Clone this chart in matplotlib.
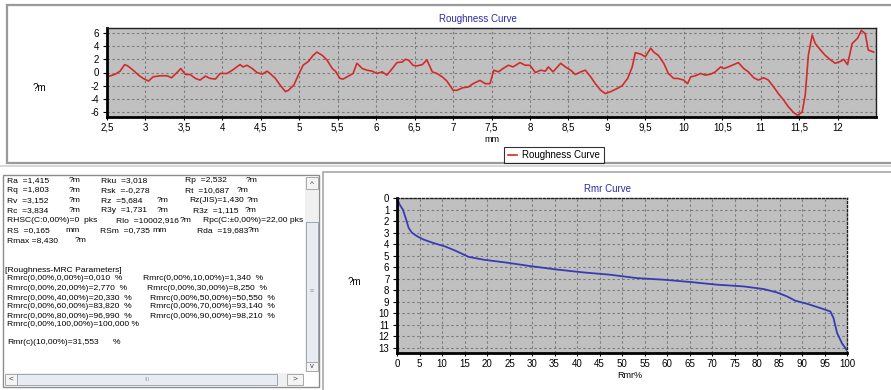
import matplotlib
matplotlib.use("Agg")
import matplotlib.pyplot as plt
from matplotlib.patches import Rectangle
from matplotlib.ticker import FuncFormatter, FixedLocator

# ---------------- data ----------------
rough_x = [2.50, 2.60, 2.67, 2.73, 2.77, 2.84, 2.91, 2.97, 3.04, 3.10, 3.19, 3.28, 3.34, 3.42, 3.46,
           3.52, 3.58, 3.65, 3.71, 3.78, 3.84, 3.91, 3.97, 4.06, 4.13, 4.19, 4.23, 4.27, 4.32, 4.39,
           4.45, 4.52, 4.58, 4.62, 4.69, 4.75, 4.82, 4.86, 4.93, 4.98, 5.05, 5.12, 5.18, 5.23, 5.30,
           5.36, 5.43, 5.47, 5.53, 5.57, 5.64, 5.70, 5.75, 5.82, 5.88, 5.95, 6.01, 6.08, 6.14, 6.21,
           6.27, 6.34, 6.38, 6.42, 6.48, 6.53, 6.60, 6.66, 6.73, 6.79, 6.86, 6.92, 7.00, 7.05, 7.13,
           7.20, 7.26, 7.35, 7.42, 7.48, 7.53, 7.59, 7.65, 7.72, 7.78, 7.87, 7.94, 8.00, 8.07, 8.14,
           8.20, 8.24, 8.30, 8.40, 8.46, 8.53, 8.59, 8.66, 8.72, 8.79, 8.85, 8.92, 8.98, 9.05, 9.14,
           9.20, 9.27, 9.33, 9.37, 9.44, 9.50, 9.57, 9.61, 9.67, 9.74, 9.80, 9.87, 9.92, 10.00, 10.05,
           10.09, 10.15, 10.22, 10.28, 10.35, 10.41, 10.48, 10.52, 10.58, 10.65, 10.71, 10.78, 10.84,
           10.91, 10.97, 11.04, 11.10, 11.17, 11.23, 11.30, 11.36, 11.43, 11.48, 11.54, 11.58, 11.62,
           11.67, 11.71, 11.78, 11.84, 11.91, 11.97, 12.04, 12.08, 12.13, 12.19, 12.26, 12.31, 12.36,
           12.40, 12.47]
rough_y = [-0.66, -0.3, 0.2, 1.2, 1.0, 0.35, -0.4, -0.9, -1.3, -0.66, -0.5, -0.5, -0.8, 0.1, 0.6,
           -0.3, -0.3, -0.9, -1.15, -0.55, -0.9, -1.0, -0.15, -0.15, 0.35, 0.85, 1.2, 0.85, 1.1, 0.6,
           0.0, -0.25, 0.2, -0.15, -0.9, -1.9, -2.9, -2.7, -1.9, -0.6, 1.1, 1.7, 2.6, 3.1, 2.6,
           1.9, 0.6, 0.2, -0.9, -1.0, -0.55, -0.15, 1.4, 0.6, 0.35, 0.2, -0.15, 0.1, -0.4, 0.6,
           1.5, 1.6, 2.0, 1.9, 1.1, 1.0, 1.2, 1.9, 0.1, -0.15, -0.66, -1.3, -2.7, -2.7, -2.3,
           -2.2, -1.7, -1.2, -1.7, -1.7, 0.35, 0.1, 0.6, 1.1, 0.85, 1.5, 1.1, 1.1, 0.0, 0.35,
           0.2, 0.85, 0.1, 1.4, 0.85, 0.35, -0.3, 0.1, 0.35, -0.66, -1.7, -2.7, -3.2, -2.9, -2.4,
           -2.0, -0.9, 0.85, 3.0, 2.8, 2.4, 3.7, 3.1, 2.6, 1.4, -0.15, -0.9, -0.9, -1.15, -1.7,
           -0.66, -0.5, -0.15, -0.4, -0.25, 0.1, 0.85, 0.6, 0.85, 1.2, 1.5, 0.6, 0.1,
           -0.8, -1.15, -0.8, -1.15, -2.2, -3.2, -4.2, -5.2, -6.1, -6.5, -6.0, -3.4, 2.6,
           5.7, 4.4, 3.4, 2.6, 1.9, 1.4, 1.7, 2.0, 1.2, 4.4, 5.2, 6.4, 5.9,
           3.4, 3.1]
rough_xticks = [2.5, 3, 3.5, 4, 4.5, 5, 5.5, 6, 6.5, 7, 7.5, 8, 8.5, 9, 9.5, 10, 10.5, 11, 11.5, 12]
rough_yticks = [-6, -4, -2, 0, 2, 4, 6]

rmr_pct = [0, 0.6, 1.3, 1.9, 2.6, 3.3, 4.4, 5.9, 8.1, 10.7, 13.0, 15.9, 19.3, 24.4, 29.6, 35.6,
           41.5, 47.4, 53.3, 59.3, 65.2, 71.1, 77.0, 81.5, 84.4, 86.7, 88.5, 91.1, 94.1, 96.3,
           97.0, 97.8, 98.9, 100]
rmr_depth = [0, 0.58, 1.0, 1.7, 2.6, 3.0, 3.3, 3.6, 3.9, 4.2, 4.57, 5.1, 5.35, 5.6, 5.9, 6.2,
             6.45, 6.65, 6.94, 7.08, 7.28, 7.51, 7.66, 7.89, 8.18, 8.53, 8.9, 9.16, 9.54, 9.83,
             10.4, 11.7, 12.6, 13.2]
rmr_xticks = list(range(0, 101, 5))
rmr_yticks = list(range(0, 14))

# parameter read-outs (text panel)
param_rows = [
    (181, [(7, "Ra  =1,415"), (69, "?m"), (101, "Rku  =3,018"), (185, "Rp  =2,532"), (246, "?m")]),
    (191, [(7, "Rq  =1,803"), (69, "?m"), (101, "Rsk  =-0,278"), (185, "Rt  =10,687"), (237, "?m")]),
    (201, [(7, "Rv  =3,152"), (69, "?m"), (101, "Rz  =5,684"), (157, "?m"), (189, "Rz(JIS)=1,430"), (247, "?m")]),
    (211, [(7, "Rc  =3,834"), (69, "?m"), (101, "R3y  =1,731"), (157, "?m"), (193, "R3z  =1,115"), (245, "?m")]),
    (221, [(7, "RHSC(C:0,00%)=0  pks"), (116, "Rlo  =10002,916"), (180, "?m"), (203, "Rpc(C:\u00b10,00%)=22,00 pks")]),
    (231, [(7, "RS  =0,165"), (65, "mm"), (100, "RSm  =0,735"), (152, "mm"), (197, "Rda  =19,683"), (248, "?m")]),
    (241, [(7, "Rmax =8,430"), (75, "?m")]),
]
mrc_levels = [0, 10, 20, 30, 40, 50, 60, 70, 80, 90, 100]
mrc_values = [0.010, 1.340, 2.770, 8.250, 20.330, 50.550, 83.820, 93.140, 96.990, 98.210, 100.000]
rmr_c_level = 10
rmr_c_value = 31.553

# ---------------- figure ----------------
W, H = 891, 390
fig = plt.figure(figsize=(W / 100, H / 100), dpi=100)
fig.patch.set_facecolor("white")

fam = ["Liberation Sans", "DejaVu Sans"]
plt.rcParams["font.family"] = fam


def fx(x):
    return x / W


def fy(y):
    return 1 - y / H


def prect(x0, y0, x1, y1, **kw):
    r = Rectangle((fx(x0), fy(y1)), (x1 - x0) / W, (y1 - y0) / H,
                  transform=fig.transFigure, **kw)
    fig.add_artist(r)
    return r


def ptext(x, y, s, **kw):
    kw.setdefault("fontsize", 7)
    kw.setdefault("va", "center")
    return fig.text(fx(x), fy(y), s, **kw)


# window frames
prect(7, 5, 893, 163, facecolor="white", edgecolor="#9a9a9a", lw=1.6, zorder=0)
prect(-2, 164.5, 893, 166.5, facecolor="#d8d8d8", edgecolor="none", zorder=0)
prect(3, 175, 319, 387, facecolor="white", edgecolor="#8c8c8c", lw=1.0, zorder=0)
prect(323, 172, 893, 392, facecolor="white", edgecolor="#a8a8a8", lw=1.2, zorder=0)

comma = FuncFormatter(lambda v, p: ("%g" % v).replace(".", ","))


def style_axes(ax, dotted_frame):
    ax.set_facecolor("#c0c0c0")
    ax.grid(True, color="#7c7c7c", linestyle=(0, (2.2, 2.2)), lw=0.8)
    ax.set_axisbelow(True)
    for s in ("left", "bottom"):
        ax.spines[s].set_linewidth(2.0)
        ax.spines[s].set_color("black")
    for s in ("top", "right"):
        ax.spines[s].set_linewidth(1.0)
        ax.spines[s].set_color("#202020")
        if dotted_frame:
            ax.spines[s].set_linestyle((0, (1.5, 1.5)))
    ax.tick_params(axis="both", labelsize=7, length=3, width=0.8, pad=2.5, colors="black")
    ax.tick_params(axis="x", length=2.5, pad=1.5)
    ax.xaxis.set_major_formatter(comma)
    ax.yaxis.set_major_formatter(comma)


# ---- roughness curve ----
ax1 = fig.add_axes([fx(107), fy(117), (876 - 107) / W, (117 - 28) / H])
style_axes(ax1, False)
ax1.plot(rough_x, rough_y, color="#d42a2a", lw=1.2, label="Roughness Curve")
ax1.set_xlim(2.5, 12.5)
ax1.set_ylim(-6.76, 6.76)
ax1.xaxis.set_major_locator(FixedLocator(rough_xticks))
ax1.yaxis.set_major_locator(FixedLocator(rough_yticks))

ptext(478, 19, "Roughness Curve", ha="center", color="#2b2ba8", fontsize=7)
ptext(33, 88, "?m", ha="left", fontsize=7)
ptext(492, 139, "mm", ha="center", fontsize=6.5)
leg = ax1.legend(loc="center", bbox_to_anchor=(fx(554), fy(155)), bbox_transform=fig.transFigure,
                 fontsize=7, frameon=True, fancybox=False, handlelength=1.0, handletextpad=0.5,
                 borderpad=0.35, borderaxespad=0)
leg.get_frame().set_edgecolor("black")
leg.get_frame().set_linewidth(0.8)

# ---- Rmr curve ----
ax2 = fig.add_axes([fx(397), fy(353), (847 - 397) / W, (353 - 198) / H])
style_axes(ax2, True)
ax2.plot(rmr_pct, rmr_depth, color="#3a3ab4", lw=1.3)
ax2.set_xlim(0, 100)
ax2.set_ylim(13.43, 0)
ax2.xaxis.set_major_locator(FixedLocator(rmr_xticks))
ax2.yaxis.set_major_locator(FixedLocator(rmr_yticks))

ptext(608, 189, "Rmr Curve", ha="center", color="#2b2ba8", fontsize=7)
ptext(348, 282, "?m", ha="left", fontsize=7)
ptext(630, 376, "Rmr%", ha="center", fontsize=6.5)

# ---- text panel ----
tsize = 6.1
clip_box = Rectangle((fx(4), fy(386)), (303 - 4) / W, (386 - 176) / H, transform=fig.transFigure,
                     visible=False)
fig.add_artist(clip_box)
for y, items in param_rows:
    for x, s in items:
        t = ptext(x, y, s, fontsize=tsize, ha="left")
        t.set_clip_path(clip_box)
        t.set_clip_on(True)


def f3(v):
    return ("%.3f" % v).replace(".", ",")


ptext(5, 270, "[Roughness-MRC Parameters]", fontsize=tsize)
left_x = 7
right_x = [143, 147, 150, 150, 150]
row_y = [279, 288, 298, 307, 316, 325]
for i in range(len(mrc_levels)):
    r = i // 2
    if i == len(mrc_levels) - 1:
        s = "Rmrc(0,00%%,%d,00%%)=%s %%" % (mrc_levels[i], f3(mrc_values[i]))
    else:
        s = "Rmrc(0,00%%,%d,00%%)=%s  %%" % (mrc_levels[i], f3(mrc_values[i]))
    x = left_x if i % 2 == 0 else right_x[r]
    ptext(x, row_y[r], s, fontsize=tsize)
ptext(7, 343, "Rmr(c)(%d,00%%)=%s" % (rmr_c_level, f3(rmr_c_value)), fontsize=tsize)
ptext(113, 343, "%", fontsize=tsize)

# scrollbars
prect(305, 176, 318, 372, facecolor="#f0f0f0", edgecolor="none", zorder=1)
prect(305.5, 177, 317.5, 189, facecolor="#f4f4f4", edgecolor="#a8a8a8", lw=0.7, zorder=2)
ptext(311.5, 184, "^", ha="center", fontsize=6, color="#404060", zorder=3)
prect(305.5, 222, 317.5, 362, facecolor="#e8ecf2", edgecolor="#9aa4b4", lw=0.7, zorder=2)
ptext(311.5, 292, "\u2261", ha="center", fontsize=5, color="#9aa0aa", zorder=3)
prect(305.5, 362, 317.5, 371, facecolor="#f4f4f4", edgecolor="#a8a8a8", lw=0.7, zorder=2)
ptext(311.5, 366, "v", ha="center", fontsize=5.5, color="#404060", zorder=3)

prect(4, 373, 304, 386, facecolor="#f0f0f0", edgecolor="none", zorder=1)
prect(5, 374, 17, 385, facecolor="#f4f4f4", edgecolor="#a8a8a8", lw=0.7, zorder=2)
ptext(11, 379.5, "<", ha="center", fontsize=6, color="#404060", zorder=3)
prect(17, 374, 277, 385, facecolor="#e8ecf2", edgecolor="#9aa4b4", lw=0.7, zorder=2)
ptext(147, 379.5, "III", ha="center", fontsize=4.5, color="#9aa0aa", zorder=3)
prect(287, 374, 303, 385, facecolor="#f4f4f4", edgecolor="#a8a8a8", lw=0.7, zorder=2)
ptext(295, 379.5, ">", ha="center", fontsize=6, color="#404060", zorder=3)

fig.savefig("out.png", dpi=100)
